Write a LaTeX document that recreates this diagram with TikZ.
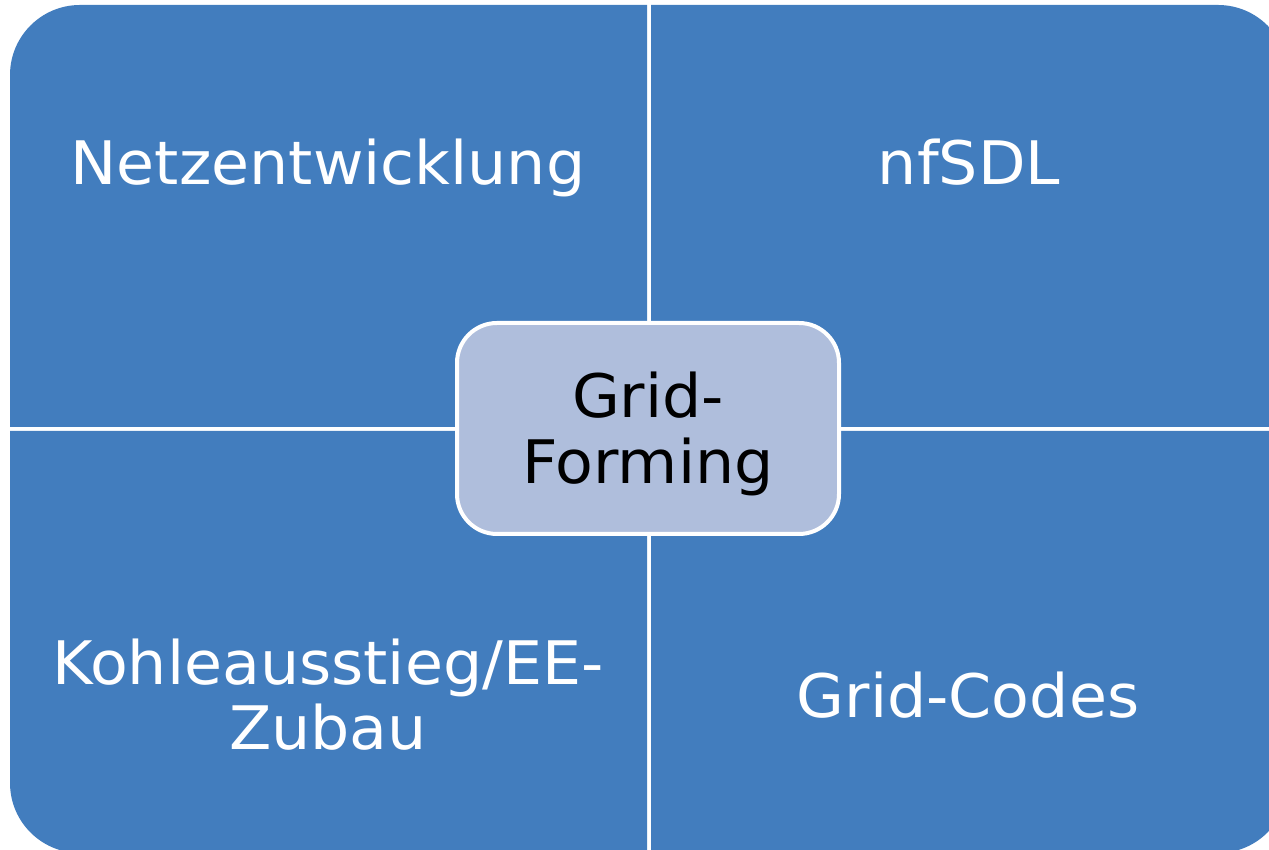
\documentclass[tikz,border=0pt]{standalone}
\usepackage{fontspec}
\setmainfont[FakeStretch=1.03]{DejaVu Sans}
\definecolor{quadblue}{RGB}{66,125,190}
\definecolor{centerfill}{RGB}{175,190,220}
\begin{document}
\begin{tikzpicture}[x=1pt,y=1pt,
  quad/.style={fill=quadblue, draw=none},
  qtext/.style={text=white, font=\fontsize{60}{65}\selectfont, align=center, inner sep=0pt},
  centerbox/.style={fill=centerfill, draw=white, line width=4pt, rounded corners=40pt,
    minimum width=382pt, minimum height=211pt, inner sep=0pt},
  ctext/.style={text=black, font=\fontsize{60}{66}\selectfont, align=center, inner sep=0pt}]
\useasboundingbox (0,0) rectangle (1269,850);
\clip (0,0) rectangle (1269,850);
% quadrants
\fill[quad] (647,423) -- (10,423) -- (10,775) arc[start angle=180, end angle=90, radius=70] -- (647,845) -- cycle;
\fill[quad] (651,423) -- (651,845) -- (1218,845) arc[start angle=90, end angle=0, radius=70] -- (1288,423) -- cycle;
\fill[quad] (647,419) -- (10,419) -- (10,67) arc[start angle=180, end angle=270, radius=70] -- (647,-3) -- cycle;
\fill[quad] (651,419) -- (1288,419) -- (1288,67) arc[start angle=0, end angle=-90, radius=70] -- (651,-3) -- cycle;
% quadrant texts
\node[qtext, anchor=base] (netz) at (328,665) {Netzentwicklung};
\node[qtext, anchor=base] (nfsdl) at (969,665) {nfSDL};
\node[qtext, anchor=center] (kohle) at (328,155.3) {Kohleausstieg/EE-\\Zubau};
\node[qtext, anchor=base] (codes) at (968,132) {Grid-Codes};
% center
\node[centerbox] (gf) at (648,421.5) {};
\node[ctext] (gftext) at (648,416.3) {Grid-\\Forming};
\end{tikzpicture}
\end{document}
